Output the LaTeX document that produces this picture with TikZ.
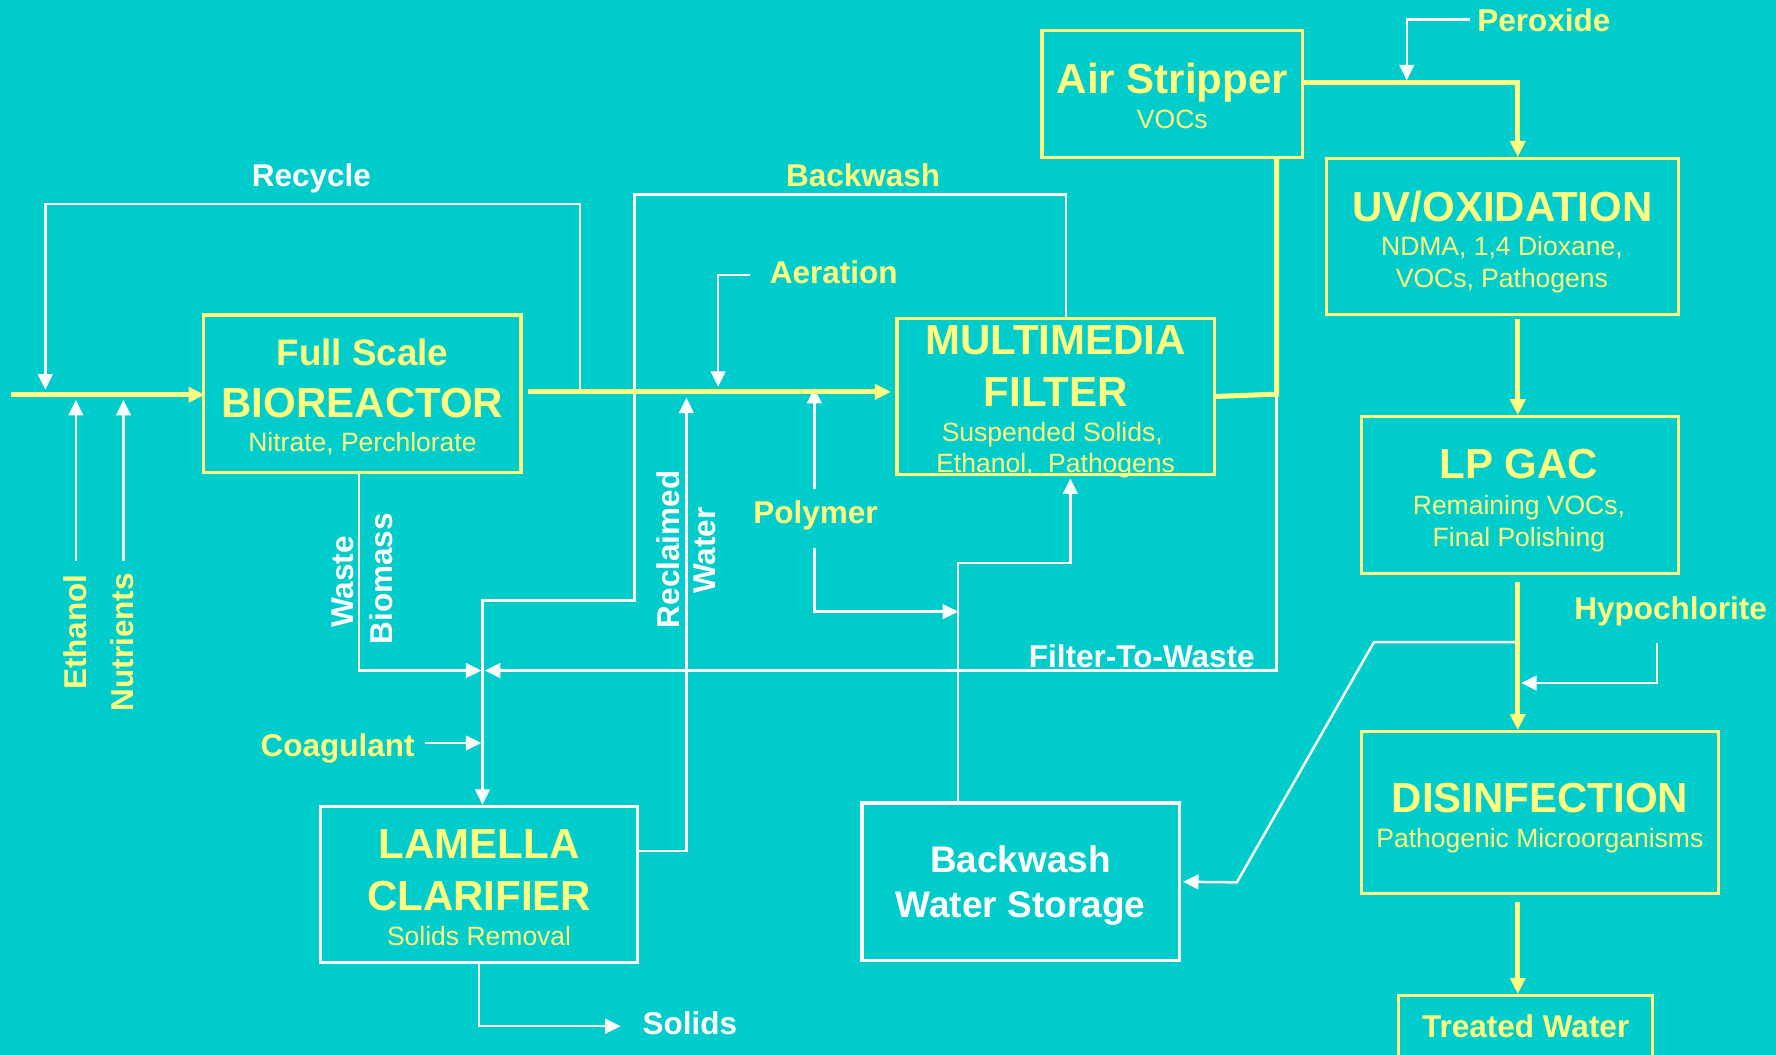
\documentclass[tikz,border=0pt]{standalone}
\usepackage{fontspec}
\setmainfont{Liberation Sans}
\usetikzlibrary{arrows.meta,calc}
\definecolor{bg}{RGB}{0,204,204}
\definecolor{yel}{RGB}{255,255,128}
\begin{document}
\begin{tikzpicture}[x=1.1327pt,y=-1.1327pt,
  ybox/.style={draw=yel,line width=3.2pt,inner sep=0pt},
  wbox/.style={draw=white,line width=3.2pt,inner sep=0pt},
  ttl/.style={font=\bfseries\fontsize{42}{42}\selectfont,text=yel,text height=30pt,text depth=0pt,inner sep=0pt},
  sub/.style={font=\fontsize{26.5}{26.5}\selectfont,text=yel,text height=19pt,text depth=0pt,inner sep=0pt},
  lab/.style={font=\bfseries\fontsize{31.5}{31.5}\selectfont,text height=22.5pt,text depth=0pt,inner sep=0pt},
  ylab/.style={lab,text=yel},
  wlab/.style={lab,text=white},
  stor/.style={font=\bfseries\fontsize{37}{37}\selectfont,text=white,text height=26.5pt,text depth=0pt,inner sep=0pt},
  flow/.style={draw=yel,line width=5pt},
  flowa/.style={flow,-{Triangle[length=16pt,width=15pt]}},
  wline/.style={draw=white,line width=2.5pt},
  warr/.style={wline,-{Triangle[length=15.5pt,width=14.5pt]}},
]
\useasboundingbox (0,0) rectangle (1568,931);
\clip (0,0) rectangle (1568,931);
\fill[bg] (0,0) rectangle (1568,931);

% boxes
\node[ybox,minimum width=317.2pt,minimum height=157.4pt] (bio) at (320,347.5) {};
\node[ybox,minimum width=317.2pt,minimum height=156.3pt] (filt) at (932,350) {};
\node[ybox,minimum width=260.5pt,minimum height=126.9pt] (air) at (1035,83) {};
\node[ybox,minimum width=352.3pt,minimum height=156.3pt] (uv) at (1326.5,209) {};
\node[ybox,minimum width=317.2pt,minimum height=156.3pt] (gac) at (1342,437) {};
\node[ybox,minimum width=356.8pt,minimum height=162pt] (dis) at (1359.5,717.5) {};
\node[ybox,minimum width=253.7pt,minimum height=113.3pt] (tw) at (1347,929) {};
\node[wbox,minimum width=317.2pt,minimum height=156.3pt] (lam) at (423,781) {};
\node[wbox,minimum width=317.2pt,minimum height=157.4pt] (bws) at (901,778.5) {};

% box texts
\node[ttl,font=\bfseries\fontsize{36.8}{36.8}\selectfont,text height=26.3pt] (t1) at (320,311) {Full Scale};
\node[ttl] (t2) at (320,355) {BIOREACTOR};
\node[sub] (t3) at (320,390) {Nitrate, Perchlorate};
\node[ttl] (t4) at (932,300) {MULTIMEDIA};
\node[ttl] (t5) at (932,346) {FILTER};
\node[sub] (t6) at (929,381) {Suspended Solids,};
\node[sub] (t7) at (932,409) {Ethanol,\ \ Pathogens};
\node[ttl] (t8) at (1035,69) {Air Stripper};
\node[sub] (t9) at (1035,105) {VOCs};
\node[ttl] (t10) at (1326.5,182) {UV/OXIDATION};
\node[sub] (t11) at (1326,217) {NDMA, 1,4 Dioxane,};
\node[sub] (t12) at (1326,245) {VOCs, Pathogens};
\node[ttl] (t13) at (1341,409) {LP GAC};
\node[sub] (t14) at (1341,446) {Remaining VOCs,};
\node[sub] (t15) at (1341,474) {Final Polishing};
\node[ttl] (t16) at (1359.5,704) {DISINFECTION};
\node[sub] (t17) at (1359.5,740) {Pathogenic Microorganisms};
\node[ylab] (t18) at (1347,906) {Treated Water};
\node[ttl] (t19) at (423,745) {LAMELLA};
\node[ttl] (t20) at (423,791) {CLARIFIER};
\node[sub] (t21) at (423,826) {Solids Removal};
\node[stor] (t22) at (901,759) {Backwash};
\node[stor] (t23) at (901,798) {Water Storage};

% labels
\node[wlab] (l1) at (275,155) {Recycle};
\node[ylab] (l2) at (762,155) {Backwash};
\node[ylab] (l3) at (736,240) {Aeration};
\node[ylab] (l4) at (720,452) {Polymer};
\node[ylab] (l5) at (298,658) {Coagulant};
\node[wlab] (l6) at (609,903) {Solids};
\node[wlab] (l7) at (1008,579) {Filter-To-Waste};
\node[ylab] (l8) at (1363,18) {Peroxide};
\node[ylab] (l9) at (1475,537) {Hypochlorite};
\node[ylab,rotate=90] (l10) at (66,558) {Ethanol};
\node[ylab,rotate=90] (l11) at (108,567) {Nutrients};
\node[wlab,rotate=90] (l12) at (302,514) {Waste};
\node[wlab,rotate=90] (l13) at (337,511) {Biomass};
\node[wlab,rotate=90] (l14) at (590,485) {Reclaimed};
\node[wlab,rotate=90] (l15) at (622,486) {Water};

% coordinates
\coordinate (in0) at (10,348.5);
\coordinate (rcA) at (512,346);
\coordinate (rcC) at (40,180);
\coordinate (rcD) at (40,344);
\coordinate (eth0) at (67,495);
\coordinate (eth1) at (67,353);
\coordinate (nut0) at (109,495);
\coordinate (nut1) at (109,353);
\coordinate (aer0) at (662,243);
\coordinate (aer1) at (634,341.5);
\coordinate (rw1) at (606,351);
\coordinate (pu0) at (719,432);
\coordinate (pu1) at (719,342.5);
\coordinate (pd0) at (719,484);
\coordinate (pd1) at (846,540);
\coordinate (bw1) at (560,530);
\coordinate (sf1) at (945,497);
\coordinate (wb1) at (425,592);
\coordinate (ys1) at (1127,348);
\coordinate (ftw1) at (428,592);
\coordinate (cg0) at (375,656);
\coordinate (cg1) at (425,656);
\coordinate (sol1) at (548,906);
\coordinate (px0) at (1298,17);
\coordinate (px1) at (1242,71);
\coordinate (hy0) at (1463,568);
\coordinate (hy1) at (1343,603);
\coordinate (vx) at (1340,0);
\coordinate (db0) at (1340,567);
\coordinate (db1) at (1213,567);
\coordinate (db2) at (1092,779);

% white connectors
\draw[warr] (rcA) |- (rcC) -- (rcD);
\draw[warr] (eth0) -- (eth1);
\draw[warr] (nut0) -- (nut1);
\draw[warr] (aer0) -| (aer1);
\draw[warr] ($(lam.north east)!0.29!(lam.south east)$) -| (rw1);
\draw[warr] (pu0) -- (pu1);
\draw[warr] (pd0) |- (pd1);
\draw[warr] ($(filt.north)+(9,0)$) -- ++(0,-108) -| (bw1) -| ($(lam.north)+(3,0)$);
\draw[warr] ($(bws.north)+(-55,0)$) |- (sf1) -- ($(filt.south)+(13,2)$);
\draw[warr] ($(bio.south)+(-3,0)$) |- (wb1);
\draw[warr] (ys1) |- (ftw1);
\draw[warr] (cg0) -- (cg1);
\draw[warr] (lam.south) |- (sol1);
\draw[warr] (px0) -| (px1);
\draw[warr] (hy0) |- (hy1);
\draw[warr] (db0) -- (db1) -- (db2) -- ($(bws.east)+(2,0)$);

% yellow flow
\draw[flowa] (in0) -- ($(in0 -| bio.west)+(2,0)$);
\draw[flowa] ($(bio.east |- rcA)+(5,0)$) -- ($(filt.west |- rcA)+(-4,0)$);
\draw[flow] (filt.east) -- (ys1) -- (ys1 |- air.south);
\draw[flowa] ($(air.east)+(0,-10)$) -| (uv.north -| vx);
\draw[flowa] ($(uv.south -| vx)+(0,2)$) -- (gac.north -| vx);
\draw[flowa] ($(gac.south -| vx)+(0,6)$) -- (dis.north -| vx);
\draw[flowa] ($(dis.south -| vx)+(0,6)$) -- (tw.north -| vx);
\end{tikzpicture}
\end{document}
